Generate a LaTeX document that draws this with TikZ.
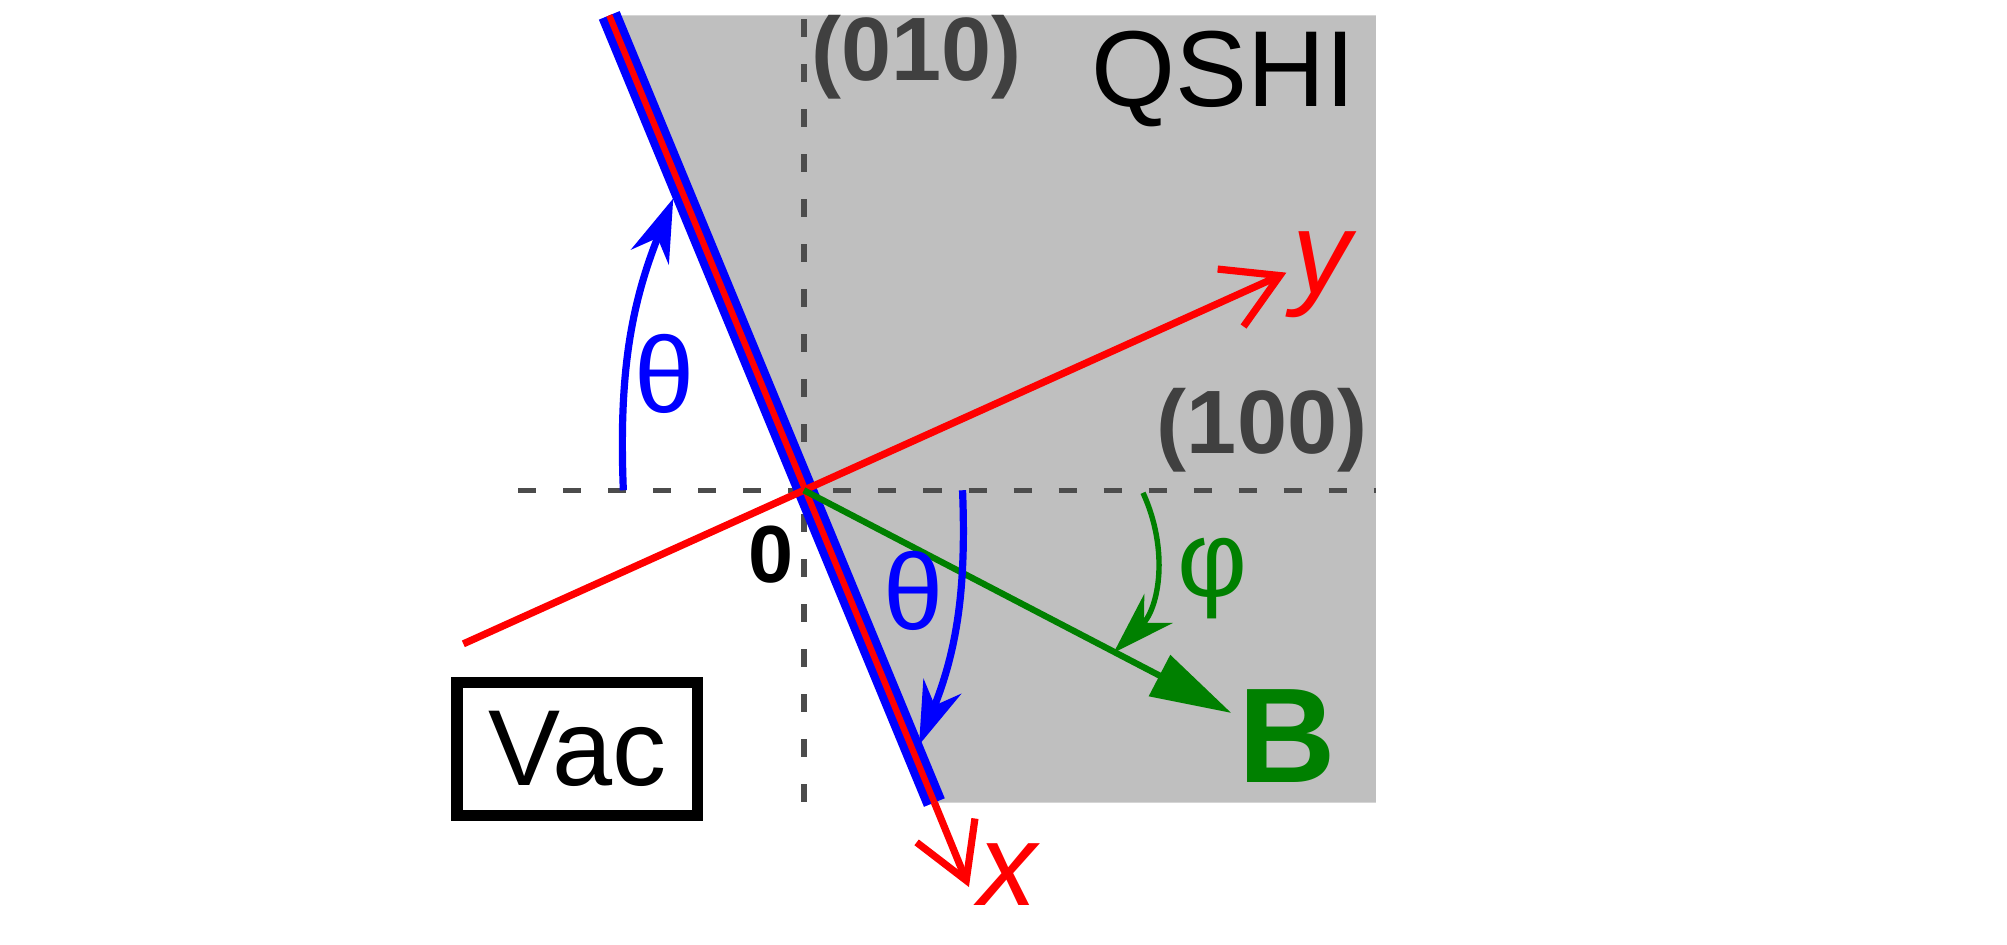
\documentclass[tikz,border=0pt]{standalone}
\usepackage{fontspec}
\setmainfont{Liberation Sans}
\usetikzlibrary{arrows.meta}
\tikzset{
  guide/.style={draw=black!70, dashed, dash pattern=on 4pt off 6pt, line width=1.2pt},
  axis/.style={red, line width=1.6pt, -{Straight Barb[length=12pt,width=14pt]}},
  arcarrow/.style={line width=1.6pt, -{Stealth[length=14pt,width=9pt]}},
  millerlbl/.style={text=black!75, font=\bfseries\fontsize{20}{20}\selectfont}
}
\begin{document}
\begin{tikzpicture}[x=0.01cm,y=-0.01cm]
        \useasboundingbox (0,0) rectangle (1568,738);
        \coordinate (O) at (628,383);
        \coordinate (etop) at (476,12);
        \coordinate (ebot) at (730,627);

        % QSHI region
        \fill[black!25] (etop) -- (1075,12) -- (1075,627) -- (ebot) -- cycle;

        % crystal directions
        \draw[guide] (405,383) -- (1075,383);
        \draw[guide] (628,15) -- (628,627);

        % edge
        \draw[blue, line width=5pt] (etop) -- (ebot);
        \draw[red, line width=1.4pt] (etop) -- (ebot);

        % axes
        \coordinate (ystart) at (362,503);
        \coordinate (yend) at (1005,213);
        \coordinate (xend) at (757,693);
        \draw[axis] (ystart) -- (yend);
        \draw[axis] (ebot) -- (xend);
        \node[red, font=\itshape\fontsize{26}{26}\selectfont] (ylbl) at (1033,215) {y};
        \node[red, font=\itshape\fontsize{26}{26}\selectfont] (xlbl) at (787,683) {x};

        % field
        \coordinate (Bend) at (962,557);
        \draw[green!50!black, line width=1.4pt, -{Triangle[length=18pt,width=10pt]}] (O) -- (Bend);
        \node[green!50!black, font=\bfseries\fontsize{30}{30}\selectfont] (Blbl) at (1006,575) {B};

        % angles
        \draw[arcarrow, blue] (487,383) to[bend left=12] (526,155);
        \draw[arcarrow, blue] (752,383) to[bend left=12] (718,582);
        \draw[green!50!black, line width=1.2pt, -{Stealth[length=14pt,width=9pt]}] (893,385) to[bend left=35] (870,510);
        \node[blue, font=\fontsize{24}{24}\selectfont] (th1) at (519,292) {θ};
        \node[blue, font=\fontsize{24}{24}\selectfont] (th2) at (714,462) {θ};
        \node[green!50!black, font=\fontsize{24}{24}\selectfont] (phi) at (947,452) {φ};

        % labels
        \node[font=\bfseries\fontsize{18}{18}\selectfont] (zero) at (602,433) {0};
        \node[millerlbl] (l010) at (716,45) {(010)};
        \node[millerlbl] (l100) at (986,336) {(100)};
        \node[font=\fontsize{24}{24}\selectfont] (qshi) at (956,62) {QSHI};
        \node[draw, line width=2.5pt, minimum width=1.88cm, minimum height=1.04cm,
              inner sep=0pt, font=\fontsize{24}{24}\selectfont] (vac) at (451,585) {Vac};
\end{tikzpicture}
\end{document}
